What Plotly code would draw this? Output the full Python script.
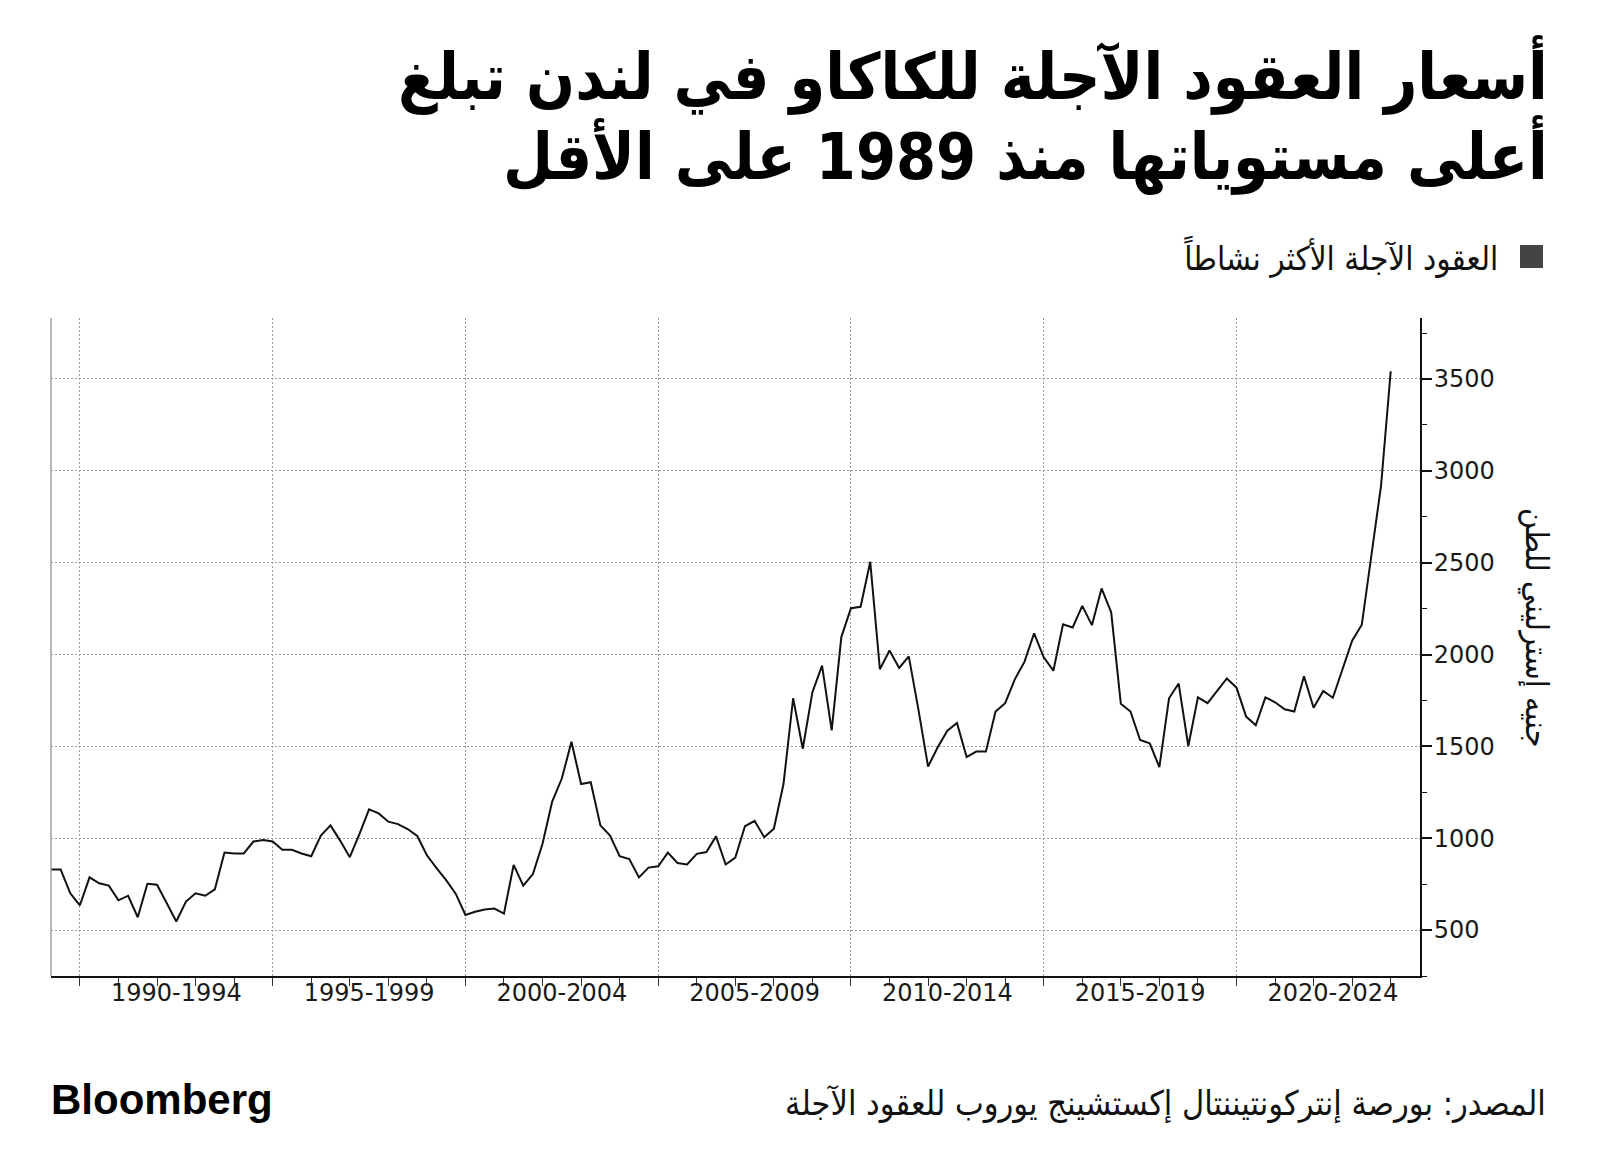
import plotly.graph_objects as go

# ---------------- data (quarterly, GBP per tonne) ----------------
start_year = 1989.25
prices = [
    830, 830, 700,                      # 1989 Q2-Q4
    635, 787, 755, 742,                 # 1990
    662, 687, 570, 752,                 # 1991
    747, 647, 547, 655,                 # 1992
    700, 687, 722, 922,                 # 1993
    917, 917, 982, 990,                 # 1994
    982, 937, 937, 917,                 # 1995
    902, 1015, 1070, 987,               # 1996
    897, 1022, 1157, 1135,              # 1997
    1090, 1077, 1050, 1012,             # 1998
    907, 837, 772, 697,                 # 1999
    582, 600, 612, 617,                 # 2000
    590, 855, 742, 805,                 # 2001
    970, 1200, 1325, 1525,              # 2002
    1295, 1305, 1070, 1015,             # 2003
    902, 887, 787, 840,                 # 2004
    847, 922, 865, 857,                 # 2005
    915, 925, 1010, 857,                # 2006
    895, 1065, 1095, 1005,              # 2007
    1052, 1295, 1762, 1487,             # 2008
    1795, 1940, 1587, 2095,             # 2009
    2252, 2260, 2505, 1920,             # 2010
    2022, 1927, 1990, 1700,             # 2011
    1390, 1495, 1585, 1627,             # 2012
    1442, 1472, 1472, 1690,             # 2013
    1735, 1865, 1960, 2115,             # 2014
    1985, 1912, 2165, 2147,             # 2015
    2265, 2160, 2360, 2230,             # 2016
    1732, 1690, 1535, 1517,             # 2017
    1387, 1762, 1842, 1502,             # 2018
    1767, 1735, 1805, 1870,             # 2019
    1820, 1662, 1615, 1767,             # 2020
    1740, 1702, 1690, 1882,             # 2021
    1710, 1802, 1765, 1920,             # 2022
    2075, 2162, 2532, 2920,             # 2023
    3542,                               # 2024
]
quarters = [start_year + 0.25 * i for i in range(len(prices))]

band_edges = [1990, 1995, 2000, 2005, 2010, 2015, 2020]
band_labels = ["1990-1994", "1995-1999", "2000-2004", "2005-2009",
               "2010-2014", "2015-2019", "2020-2024"]
band_centers = [e + 2.5 for e in band_edges]
year_ticks = list(range(1990, 2025))
y_ticks = [500, 1000, 1500, 2000, 2500, 3000, 3500]
y_minor = [250, 750, 1250, 1750, 2250, 2750, 3250, 3750]

title_line1 = "أسعار العقود الآجلة للكاكاو في لندن تبلغ"
title_line2 = "أعلى مستوياتها منذ 1989 على الأقل"
legend_text = "العقود الآجلة الأكثر نشاطاً"
y_title = "جنيه إسترليني للطن"
source_text = "المصدر: بورصة إنتركونتيننتال إكستشينج يوروب للعقود الآجلة"
brand = "Bloomberg"

# ---------------- layout geometry ----------------
W, H = 1600, 1176
L, R, T, B = 51, 1420, 318, 976


def px(x):
    return (x - L) / (R - L)


def py(y):
    return (B - y) / (B - T)


AR = "DejaVu Sans Condensed, DejaVu Sans, sans-serif"
NUM = "DejaVu Sans, sans-serif"
GRID = "#9a9a9a"

fig = go.Figure()
fig.add_trace(go.Scatter(x=quarters, y=prices, mode="lines",
                         line=dict(color="#111111", width=2),
                         showlegend=False, hoverinfo="skip"))
# invisible carrier for the band-label axis
fig.add_trace(go.Scatter(x=quarters, y=prices, xaxis="x2", mode="lines",
                         line=dict(color="rgba(0,0,0,0)", width=0),
                         showlegend=False, hoverinfo="skip"))

xr = [1989.25, 2024.76]
fig.update_layout(
    width=W, height=H,
    margin=dict(l=L, r=W - R, t=T, b=H - B),
    paper_bgcolor="white", plot_bgcolor="white",
    xaxis=dict(range=xr, tickmode="array", tickvals=band_edges,
               ticktext=[""] * len(band_edges),
               ticks="outside", ticklen=35, tickwidth=1, tickcolor=GRID,
               showgrid=True, gridcolor=GRID, gridwidth=1, griddash="2px,2px",
               showline=True, linecolor="#111111", linewidth=1.5,
               zeroline=False, fixedrange=True,
               minor=dict(tickmode="array", tickvals=year_ticks,
                          ticks="outside", ticklen=8, tickwidth=1,
                          tickcolor="#333333", showgrid=False)),
    xaxis2=dict(range=xr, overlaying="x", anchor="y", side="bottom",
                tickmode="array", tickvals=band_centers, ticktext=band_labels,
                ticks="", showgrid=False, showline=False, zeroline=False,
                tickfont=dict(family=NUM, size=24, color="#1a1a1a")),
    yaxis=dict(side="right", range=[250, 3832], tickmode="array",
               tickvals=y_ticks, ticks="outside", ticklen=10, tickwidth=2,
               tickcolor="#111111", ticklabelstandoff=-3,
               showgrid=True, gridcolor=GRID, gridwidth=1, griddash="2px,2px",
               showline=True, linecolor="#111111", linewidth=2,
               zeroline=False,
               tickfont=dict(family=NUM, size=24, color="#1a1a1a"),
               minor=dict(tickmode="array", tickvals=y_minor, ticks="outside",
                          ticklen=5, tickwidth=1, tickcolor="#111111",
                          showgrid=False)),
    showlegend=False,
)

# left frame line
fig.add_shape(type="line", xref="paper", yref="paper", x0=0, x1=0, y0=0, y1=1,
              line=dict(color="#a0a0a0", width=1.5))

# legend square
fig.add_shape(type="rect", xref="paper", yref="paper",
              x0=px(1520), x1=px(1543), y0=py(268), y1=py(245),
              fillcolor="#444444", line=dict(width=0))

ann = []
ann.append(dict(text="<b>" + title_line1 + "</b>", x=px(1550), y=py(75),
                xanchor="right", yanchor="middle",
                font=dict(family=AR, size=64, color="#000000")))
ann.append(dict(text="<b>" + title_line2 + "</b>", x=px(1550), y=py(155),
                xanchor="right", yanchor="middle",
                font=dict(family=AR, size=64, color="#000000")))
ann.append(dict(text=legend_text, x=px(1500), y=py(256),
                xanchor="right", yanchor="middle",
                font=dict(family=AR, size=33, color="#111111")))
ann.append(dict(text=y_title, x=px(1537), y=py(628), textangle=90,
                xanchor="center", yanchor="middle",
                font=dict(family=AR, size=32, color="#111111")))
ann.append(dict(text=source_text, x=px(1548), y=py(1103),
                xanchor="right", yanchor="middle",
                font=dict(family=AR, size=34, color="#111111")))
ann.append(dict(text="<b>" + brand + "</b>", x=px(49), y=py(1099),
                xanchor="left", yanchor="middle",
                font=dict(family="Liberation Sans, Arial, sans-serif",
                          size=42, color="#000000")))
for a in ann:
    a.update(xref="paper", yref="paper", showarrow=False)
fig.update_layout(annotations=ann)

fig.write_html("out.html")
